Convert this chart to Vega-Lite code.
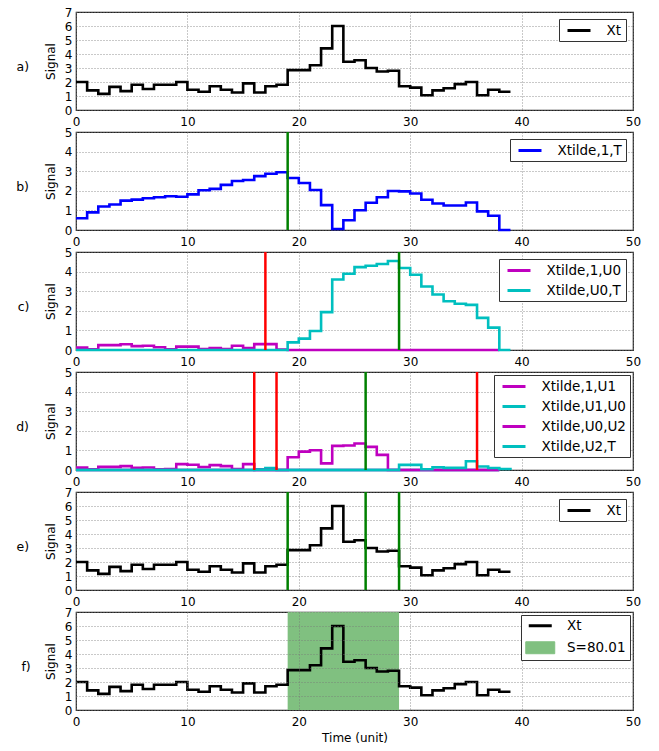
{
  "$schema": "https://vega.github.io/schema/vega-lite/v6.json",
  "background": "white",
  "padding": {"left": 15, "top": 5, "right": 5, "bottom": 5},
  "bounds": "flush",
  "spacing": 22,
  "resolve": {"scale": {"color": "independent"}, "legend": {"color": "independent"}},
  "datasets": {
    "sig": [
      {"t": 0, "Xt": 2.0, "Xtilde,1,T": 0.6, "Xtilde,1,U0": 0.12, "Xtilde,U0,T": 0, "Xtilde,1,U1": 0.12, "Xtilde,U1,U0": 0, "Xtilde,U0,U2": 0, "Xtilde,U2,T": 0},
      {"t": 1, "Xt": 1.4, "Xtilde,1,T": 0.9, "Xtilde,1,U0": 0.03, "Xtilde,U0,T": 0, "Xtilde,1,U1": 0.03, "Xtilde,U1,U0": 0, "Xtilde,U0,U2": 0, "Xtilde,U2,T": 0},
      {"t": 2, "Xt": 1.15, "Xtilde,1,T": 1.2, "Xtilde,1,U0": 0.25, "Xtilde,U0,T": 0, "Xtilde,1,U1": 0.16, "Xtilde,U1,U0": 0, "Xtilde,U0,U2": 0, "Xtilde,U2,T": 0},
      {"t": 3, "Xt": 1.65, "Xtilde,1,T": 1.3, "Xtilde,1,U0": 0.25, "Xtilde,U0,T": 0, "Xtilde,1,U1": 0.16, "Xtilde,U1,U0": 0, "Xtilde,U0,U2": 0, "Xtilde,U2,T": 0},
      {"t": 4, "Xt": 1.35, "Xtilde,1,T": 1.5, "Xtilde,1,U0": 0.29, "Xtilde,U0,T": 0, "Xtilde,1,U1": 0.2, "Xtilde,U1,U0": 0, "Xtilde,U0,U2": 0, "Xtilde,U2,T": 0},
      {"t": 5, "Xt": 1.8, "Xtilde,1,T": 1.55, "Xtilde,1,U0": 0.2, "Xtilde,U0,T": 0, "Xtilde,1,U1": 0.11, "Xtilde,U1,U0": 0, "Xtilde,U0,U2": 0, "Xtilde,U2,T": 0},
      {"t": 6, "Xt": 1.5, "Xtilde,1,T": 1.62, "Xtilde,1,U0": 0.22, "Xtilde,U0,T": 0, "Xtilde,1,U1": 0.13, "Xtilde,U1,U0": 0, "Xtilde,U0,U2": 0, "Xtilde,U2,T": 0},
      {"t": 7, "Xt": 1.8, "Xtilde,1,T": 1.67, "Xtilde,1,U0": 0.14, "Xtilde,U0,T": 0, "Xtilde,1,U1": 0.03, "Xtilde,U1,U0": 0, "Xtilde,U0,U2": 0, "Xtilde,U2,T": 0},
      {"t": 8, "Xt": 1.8, "Xtilde,1,T": 1.72, "Xtilde,1,U0": 0.03, "Xtilde,U0,T": 0, "Xtilde,1,U1": 0.05, "Xtilde,U1,U0": 0, "Xtilde,U0,U2": 0, "Xtilde,U2,T": 0},
      {"t": 9, "Xt": 2.0, "Xtilde,1,T": 1.7, "Xtilde,1,U0": 0.17, "Xtilde,U0,T": 0, "Xtilde,1,U1": 0.3, "Xtilde,U1,U0": 0, "Xtilde,U0,U2": 0, "Xtilde,U2,T": 0},
      {"t": 10, "Xt": 1.45, "Xtilde,1,T": 1.82, "Xtilde,1,U0": 0.17, "Xtilde,U0,T": 0, "Xtilde,1,U1": 0.27, "Xtilde,U1,U0": 0, "Xtilde,U0,U2": 0, "Xtilde,U2,T": 0},
      {"t": 11, "Xt": 1.3, "Xtilde,1,T": 2.03, "Xtilde,1,U0": 0.05, "Xtilde,U0,T": 0, "Xtilde,1,U1": 0.15, "Xtilde,U1,U0": 0, "Xtilde,U0,U2": 0, "Xtilde,U2,T": 0},
      {"t": 12, "Xt": 1.7, "Xtilde,1,T": 2.1, "Xtilde,1,U0": 0.1, "Xtilde,U0,T": 0, "Xtilde,1,U1": 0.25, "Xtilde,U1,U0": 0, "Xtilde,U0,U2": 0, "Xtilde,U2,T": 0},
      {"t": 13, "Xt": 1.45, "Xtilde,1,T": 2.3, "Xtilde,1,U0": 0.05, "Xtilde,U0,T": 0, "Xtilde,1,U1": 0.2, "Xtilde,U1,U0": 0, "Xtilde,U0,U2": 0, "Xtilde,U2,T": 0},
      {"t": 14, "Xt": 1.25, "Xtilde,1,T": 2.5, "Xtilde,1,U0": 0.22, "Xtilde,U0,T": 0, "Xtilde,1,U1": 0.05, "Xtilde,U1,U0": 0, "Xtilde,U0,U2": 0, "Xtilde,U2,T": 0},
      {"t": 15, "Xt": 1.9, "Xtilde,1,T": 2.55, "Xtilde,1,U0": 0.1, "Xtilde,U0,T": 0, "Xtilde,1,U1": 0.3, "Xtilde,U1,U0": 0, "Xtilde,U0,U2": 0, "Xtilde,U2,T": 0},
      {"t": 16, "Xt": 1.25, "Xtilde,1,T": 2.75, "Xtilde,1,U0": 0.3, "Xtilde,U0,T": 0, "Xtilde,1,U1": 0, "Xtilde,U1,U0": 0.03, "Xtilde,U0,U2": 0, "Xtilde,U2,T": 0},
      {"t": 17, "Xt": 1.7, "Xtilde,1,T": 2.87, "Xtilde,1,U0": 0.3, "Xtilde,U0,T": 0, "Xtilde,1,U1": 0, "Xtilde,U1,U0": 0.1, "Xtilde,U0,U2": 0, "Xtilde,U2,T": 0},
      {"t": 18, "Xt": 1.8, "Xtilde,1,T": 2.95, "Xtilde,1,U0": 0.02, "Xtilde,U0,T": 0, "Xtilde,1,U1": 0, "Xtilde,U1,U0": 0, "Xtilde,U0,U2": 0, "Xtilde,U2,T": 0},
      {"t": 19, "Xt": 2.85, "Xtilde,1,T": 2.65, "Xtilde,1,U0": 0, "Xtilde,U0,T": 0.39, "Xtilde,1,U1": 0, "Xtilde,U1,U0": 0, "Xtilde,U0,U2": 0.65, "Xtilde,U2,T": 0},
      {"t": 20, "Xt": 2.85, "Xtilde,1,T": 2.4, "Xtilde,1,U0": 0, "Xtilde,U0,T": 0.58, "Xtilde,1,U1": 0, "Xtilde,U1,U0": 0, "Xtilde,U0,U2": 0.94, "Xtilde,U2,T": 0},
      {"t": 21, "Xt": 3.2, "Xtilde,1,T": 2.04, "Xtilde,1,U0": 0, "Xtilde,U0,T": 0.97, "Xtilde,1,U1": 0, "Xtilde,U1,U0": 0, "Xtilde,U0,U2": 1.01, "Xtilde,U2,T": 0},
      {"t": 22, "Xt": 4.4, "Xtilde,1,T": 1.27, "Xtilde,1,U0": 0, "Xtilde,U0,T": 1.93, "Xtilde,1,U1": 0, "Xtilde,U1,U0": 0, "Xtilde,U0,U2": 0.34, "Xtilde,U2,T": 0},
      {"t": 23, "Xt": 6.0, "Xtilde,1,T": 0.05, "Xtilde,1,U0": 0, "Xtilde,U0,T": 3.6, "Xtilde,1,U1": 0, "Xtilde,U1,U0": 0, "Xtilde,U0,U2": 1.23, "Xtilde,U2,T": 0},
      {"t": 24, "Xt": 3.45, "Xtilde,1,T": 0.5, "Xtilde,1,U0": 0, "Xtilde,U0,T": 3.89, "Xtilde,1,U1": 0, "Xtilde,U1,U0": 0, "Xtilde,U0,U2": 1.25, "Xtilde,U2,T": 0},
      {"t": 25, "Xt": 3.55, "Xtilde,1,T": 1.01, "Xtilde,1,U0": 0, "Xtilde,U0,T": 4.23, "Xtilde,1,U1": 0, "Xtilde,U1,U0": 0, "Xtilde,U0,U2": 1.35, "Xtilde,U2,T": 0},
      {"t": 26, "Xt": 3.0, "Xtilde,1,T": 1.39, "Xtilde,1,U0": 0, "Xtilde,U0,T": 4.3, "Xtilde,1,U1": 0, "Xtilde,U1,U0": 0, "Xtilde,U0,U2": 1.18, "Xtilde,U2,T": 0},
      {"t": 27, "Xt": 2.75, "Xtilde,1,T": 1.67, "Xtilde,1,U0": 0, "Xtilde,U0,T": 4.39, "Xtilde,1,U1": 0, "Xtilde,U1,U0": 0, "Xtilde,U0,U2": 0.77, "Xtilde,U2,T": 0},
      {"t": 28, "Xt": 2.8, "Xtilde,1,T": 1.99, "Xtilde,1,U0": 0, "Xtilde,U0,T": 4.54, "Xtilde,1,U1": 0, "Xtilde,U1,U0": 0, "Xtilde,U0,U2": 0, "Xtilde,U2,T": 0},
      {"t": 29, "Xt": 1.7, "Xtilde,1,T": 1.97, "Xtilde,1,U0": 0, "Xtilde,U0,T": 4.18, "Xtilde,1,U1": 0, "Xtilde,U1,U0": 0, "Xtilde,U0,U2": 0, "Xtilde,U2,T": 0.26},
      {"t": 30, "Xt": 1.6, "Xtilde,1,T": 1.86, "Xtilde,1,U0": 0, "Xtilde,U0,T": 3.84, "Xtilde,1,U1": 0, "Xtilde,U1,U0": 0, "Xtilde,U0,U2": 0, "Xtilde,U2,T": 0.26},
      {"t": 31, "Xt": 1.05, "Xtilde,1,T": 1.54, "Xtilde,1,U0": 0, "Xtilde,U0,T": 3.24, "Xtilde,1,U1": 0, "Xtilde,U1,U0": 0, "Xtilde,U0,U2": 0, "Xtilde,U2,T": 0.04},
      {"t": 32, "Xt": 1.4, "Xtilde,1,T": 1.35, "Xtilde,1,U0": 0, "Xtilde,U0,T": 2.83, "Xtilde,1,U1": 0, "Xtilde,U1,U0": 0, "Xtilde,U0,U2": 0, "Xtilde,U2,T": 0.14},
      {"t": 33, "Xt": 1.55, "Xtilde,1,T": 1.25, "Xtilde,1,U0": 0, "Xtilde,U0,T": 2.49, "Xtilde,1,U1": 0, "Xtilde,U1,U0": 0, "Xtilde,U0,U2": 0, "Xtilde,U2,T": 0.11},
      {"t": 34, "Xt": 1.85, "Xtilde,1,T": 1.25, "Xtilde,1,U0": 0, "Xtilde,U0,T": 2.36, "Xtilde,1,U1": 0, "Xtilde,U1,U0": 0, "Xtilde,U0,U2": 0, "Xtilde,U2,T": 0.11},
      {"t": 35, "Xt": 2.0, "Xtilde,1,T": 1.4, "Xtilde,1,U0": 0, "Xtilde,U0,T": 2.3, "Xtilde,1,U1": 0, "Xtilde,U1,U0": 0, "Xtilde,U0,U2": 0, "Xtilde,U2,T": 0.45},
      {"t": 36, "Xt": 1.05, "Xtilde,1,T": 0.95, "Xtilde,1,U0": 0, "Xtilde,U0,T": 1.64, "Xtilde,1,U1": 0, "Xtilde,U1,U0": 0, "Xtilde,U0,U2": 0, "Xtilde,U2,T": 0.18},
      {"t": 37, "Xt": 1.45, "Xtilde,1,T": 0.73, "Xtilde,1,U0": 0, "Xtilde,U0,T": 1.14, "Xtilde,1,U1": 0, "Xtilde,U1,U0": 0, "Xtilde,U0,U2": 0, "Xtilde,U2,T": 0.1},
      {"t": 38, "Xt": 1.3, "Xtilde,1,T": 0, "Xtilde,1,U0": 0, "Xtilde,U0,T": 0, "Xtilde,1,U1": 0, "Xtilde,U1,U0": 0, "Xtilde,U0,U2": 0, "Xtilde,U2,T": 0.05},
      {"t": 39, "Xt": 1.3, "Xtilde,1,T": 0, "Xtilde,1,U0": null, "Xtilde,U0,T": 0, "Xtilde,1,U1": null, "Xtilde,U1,U0": null, "Xtilde,U0,U2": null, "Xtilde,U2,T": 0}
    ],
    "cuts": [
      {"panel": "b", "t": 19, "kind": "selected"},
      {"panel": "c", "t": 17, "kind": "split"},
      {"panel": "c", "t": 29, "kind": "selected"},
      {"panel": "d", "t": 16, "kind": "split"},
      {"panel": "d", "t": 18, "kind": "split"},
      {"panel": "d", "t": 26, "kind": "selected"},
      {"panel": "d", "t": 36, "kind": "split"},
      {"panel": "e", "t": 19, "kind": "selected"},
      {"panel": "e", "t": 26, "kind": "selected"},
      {"panel": "e", "t": 29, "kind": "selected"}
    ],
    "span": [
      {"from": 19, "to": 29, "label": "S=80.01"}
    ]
  },
  "vconcat": [
    {
      "width": 557,
      "height": 98,
      "title": "a)",
      "data": {"name": "sig"},
      "transform": [{"fold": ["Xt"], "as": ["series", "value"]}],
      "mark": {"type": "line", "interpolate": "step-after", "strokeWidth": 2.6},
      "encoding": {
        "x": {"field": "t", "type": "quantitative", "scale": {"domain": [0, 50]}, "title": null, "axis": {"values": [0, 10, 20, 30, 40, 50]}},
        "y": {"field": "value", "type": "quantitative", "scale": {"domain": [0, 7]}, "title": "Signal", "axis": {"values": [0, 1, 2, 3, 4, 5, 6, 7]}},
        "color": {"field": "series", "type": "nominal", "scale": {"domain": ["Xt"], "range": ["#000000"]}, "legend": {"title": null}}
      }
    },
    {
      "width": 557,
      "height": 98,
      "title": "b)",
      "layer": [
        {
          "data": {"name": "sig"},
          "transform": [{"fold": ["Xtilde,1,T"], "as": ["series", "value"]}],
          "mark": {"type": "line", "interpolate": "step-after", "strokeWidth": 2.6},
          "encoding": {
            "x": {"field": "t", "type": "quantitative", "scale": {"domain": [0, 50]}, "title": null, "axis": {"values": [0, 10, 20, 30, 40, 50]}},
            "y": {"field": "value", "type": "quantitative", "scale": {"domain": [0, 5]}, "title": "Signal", "axis": {"values": [0, 1, 2, 3, 4, 5]}},
            "color": {"field": "series", "type": "nominal", "scale": {"domain": ["Xtilde,1,T"], "range": ["#0000ff"]}, "legend": {"title": null}}
          }
        },
        {
          "data": {"name": "cuts"},
          "transform": [{"filter": "datum.panel === 'b'"}],
          "mark": {"type": "rule", "strokeWidth": 2.5},
          "encoding": {
            "x": {"field": "t", "type": "quantitative", "title": null},
            "stroke": {"field": "kind", "type": "nominal", "scale": {"domain": ["split", "selected"], "range": ["#ff0000", "#008000"]}, "legend": null}
          }
        }
      ]
    },
    {
      "width": 557,
      "height": 98,
      "title": "c)",
      "layer": [
        {
          "data": {"name": "sig"},
          "transform": [{"fold": ["Xtilde,1,U0", "Xtilde,U0,T"], "as": ["series", "value"]}],
          "mark": {"type": "line", "interpolate": "step-after", "strokeWidth": 2.6},
          "encoding": {
            "x": {"field": "t", "type": "quantitative", "scale": {"domain": [0, 50]}, "title": null, "axis": {"values": [0, 10, 20, 30, 40, 50]}},
            "y": {"field": "value", "type": "quantitative", "scale": {"domain": [0, 5]}, "title": "Signal", "axis": {"values": [0, 1, 2, 3, 4, 5]}},
            "color": {"field": "series", "type": "nominal", "scale": {"domain": ["Xtilde,1,U0", "Xtilde,U0,T"], "range": ["#bf00bf", "#00bfbf"]}, "legend": {"title": null}}
          }
        },
        {
          "data": {"name": "cuts"},
          "transform": [{"filter": "datum.panel === 'c'"}],
          "mark": {"type": "rule", "strokeWidth": 2.5},
          "encoding": {
            "x": {"field": "t", "type": "quantitative", "title": null},
            "stroke": {"field": "kind", "type": "nominal", "scale": {"domain": ["split", "selected"], "range": ["#ff0000", "#008000"]}, "legend": null}
          }
        }
      ]
    },
    {
      "width": 557,
      "height": 98,
      "title": "d)",
      "layer": [
        {
          "data": {"name": "sig"},
          "transform": [{"fold": ["Xtilde,1,U1", "Xtilde,U1,U0", "Xtilde,U0,U2", "Xtilde,U2,T"], "as": ["series", "value"]}],
          "mark": {"type": "line", "interpolate": "step-after", "strokeWidth": 2.6},
          "encoding": {
            "x": {"field": "t", "type": "quantitative", "scale": {"domain": [0, 50]}, "title": null, "axis": {"values": [0, 10, 20, 30, 40, 50]}},
            "y": {"field": "value", "type": "quantitative", "scale": {"domain": [0, 5]}, "title": "Signal", "axis": {"values": [0, 1, 2, 3, 4, 5]}},
            "color": {"field": "series", "type": "nominal", "scale": {"domain": ["Xtilde,1,U1", "Xtilde,U1,U0", "Xtilde,U0,U2", "Xtilde,U2,T"], "range": ["#bf00bf", "#00bfbf", "#bf00bf", "#00bfbf"]}, "legend": {"title": null, "offset": 3}}
          }
        },
        {
          "data": {"name": "cuts"},
          "transform": [{"filter": "datum.panel === 'd'"}],
          "mark": {"type": "rule", "strokeWidth": 2.5},
          "encoding": {
            "x": {"field": "t", "type": "quantitative", "title": null},
            "stroke": {"field": "kind", "type": "nominal", "scale": {"domain": ["split", "selected"], "range": ["#ff0000", "#008000"]}, "legend": null}
          }
        }
      ]
    },
    {
      "width": 557,
      "height": 98,
      "title": "e)",
      "layer": [
        {
          "data": {"name": "sig"},
          "transform": [{"fold": ["Xt"], "as": ["series", "value"]}],
          "mark": {"type": "line", "interpolate": "step-after", "strokeWidth": 2.6},
          "encoding": {
            "x": {"field": "t", "type": "quantitative", "scale": {"domain": [0, 50]}, "title": null, "axis": {"values": [0, 10, 20, 30, 40, 50]}},
            "y": {"field": "value", "type": "quantitative", "scale": {"domain": [0, 7]}, "title": "Signal", "axis": {"values": [0, 1, 2, 3, 4, 5, 6, 7]}},
            "color": {"field": "series", "type": "nominal", "scale": {"domain": ["Xt"], "range": ["#000000"]}, "legend": {"title": null}}
          }
        },
        {
          "data": {"name": "cuts"},
          "transform": [{"filter": "datum.panel === 'e'"}],
          "mark": {"type": "rule", "strokeWidth": 2.5},
          "encoding": {
            "x": {"field": "t", "type": "quantitative", "title": null},
            "stroke": {"field": "kind", "type": "nominal", "scale": {"domain": ["split", "selected"], "range": ["#ff0000", "#008000"]}, "legend": null}
          }
        }
      ]
    },
    {
      "width": 557,
      "height": 98,
      "title": "f)",
      "layer": [
        {
          "data": {"name": "span"},
          "mark": {"type": "rect"},
          "encoding": {
            "x": {"field": "from", "type": "quantitative", "scale": {"domain": [0, 50]}, "title": "Time (unit)", "axis": {"values": [0, 10, 20, 30, 40, 50], "zindex": 1}},
            "x2": {"field": "to"},
            "color": {
              "field": "label",
              "type": "nominal",
              "scale": {"domain": ["Xt", "S=80.01"], "range": ["#000000", "#80c080"]},
              "legend": {
                "title": null,
                "offset": 3,
                "zindex": 2,
                "encoding": {
                  "symbols": {
                    "shape": {"value": {"signal": "datum.value === 'S=80.01' ? 'M-2.52,-1.04H2.52V1.04H-2.52Z' : 'M-2,0H2'"}},
                    "stroke": {"value": {"signal": "datum.value === 'S=80.01' ? '#4d9f4d' : '#000000'"}},
                    "strokeWidth": {"value": {"signal": "datum.value === 'S=80.01' ? 1 : 3"}},
                    "opacity": {"value": 1}
                  }
                }
              }
            }
          }
        },
        {
          "data": {"name": "sig"},
          "transform": [{"fold": ["Xt"], "as": ["series", "value"]}],
          "mark": {"type": "line", "interpolate": "step-after", "strokeWidth": 2.6},
          "encoding": {
            "x": {"field": "t", "type": "quantitative", "scale": {"domain": [0, 50]}, "title": "Time (unit)", "axis": {"values": [0, 10, 20, 30, 40, 50], "zindex": 1}},
            "y": {"field": "value", "type": "quantitative", "scale": {"domain": [0, 7]}, "title": "Signal", "axis": {"values": [0, 1, 2, 3, 4, 5, 6, 7], "zindex": 1}},
            "color": {
              "field": "series",
              "type": "nominal",
              "scale": {"domain": ["Xt", "S=80.01"], "range": ["#000000", "#80c080"]},
              "legend": {
                "title": null,
                "offset": 3,
                "zindex": 2,
                "encoding": {
                  "symbols": {
                    "shape": {"value": {"signal": "datum.value === 'S=80.01' ? 'M-2.52,-1.04H2.52V1.04H-2.52Z' : 'M-2,0H2'"}},
                    "stroke": {"value": {"signal": "datum.value === 'S=80.01' ? '#4d9f4d' : '#000000'"}},
                    "strokeWidth": {"value": {"signal": "datum.value === 'S=80.01' ? 1 : 3"}},
                    "opacity": {"value": 1}
                  }
                }
              }
            }
          }
        }
      ]
    }
  ],
  "config": {
    "font": "DejaVu Sans",
    "view": {"stroke": "#222222", "strokeWidth": 1.2},
    "title": {"orient": "left", "angle": 0, "align": "right", "baseline": "middle", "anchor": "middle", "offset": 9, "fontSize": 12.5, "fontWeight": "normal", "font": "DejaVu Sans", "color": "#000000"},
    "axis": {
      "grid": true,
      "gridColor": "#777777",
      "gridDash": [1, 2],
      "gridWidth": 0.8,
      "ticks": false,
      "domain": false,
      "labelFont": "DejaVu Sans",
      "labelFontSize": 12,
      "labelColor": "#000000",
      "labelFlush": false,
      "labelOverlap": false,
      "titleFont": "DejaVu Sans",
      "titleFontSize": 12,
      "titleFontWeight": "normal",
      "titleColor": "#000000"
    },
    "axisX": {"labelPadding": 6, "titlePadding": 5},
    "axisY": {"labelPadding": 4, "titlePadding": 7},
    "legend": {
      "orient": "top-right",
      "offset": 7,
      "strokeColor": "#333333",
      "strokeWidth": 1,
      "fillColor": "#ffffff",
      "padding": 4,
      "cornerRadius": 0,
      "labelFont": "DejaVu Sans",
      "labelFontSize": 13.5,
      "labelColor": "#000000",
      "labelLimit": 300,
      "labelOffset": 20,
      "rowPadding": 6,
      "symbolType": "M-2,0H2",
      "symbolSize": 132.25,
      "symbolOffset": 8.5,
      "symbolStrokeWidth": 3
    }
  }
}
